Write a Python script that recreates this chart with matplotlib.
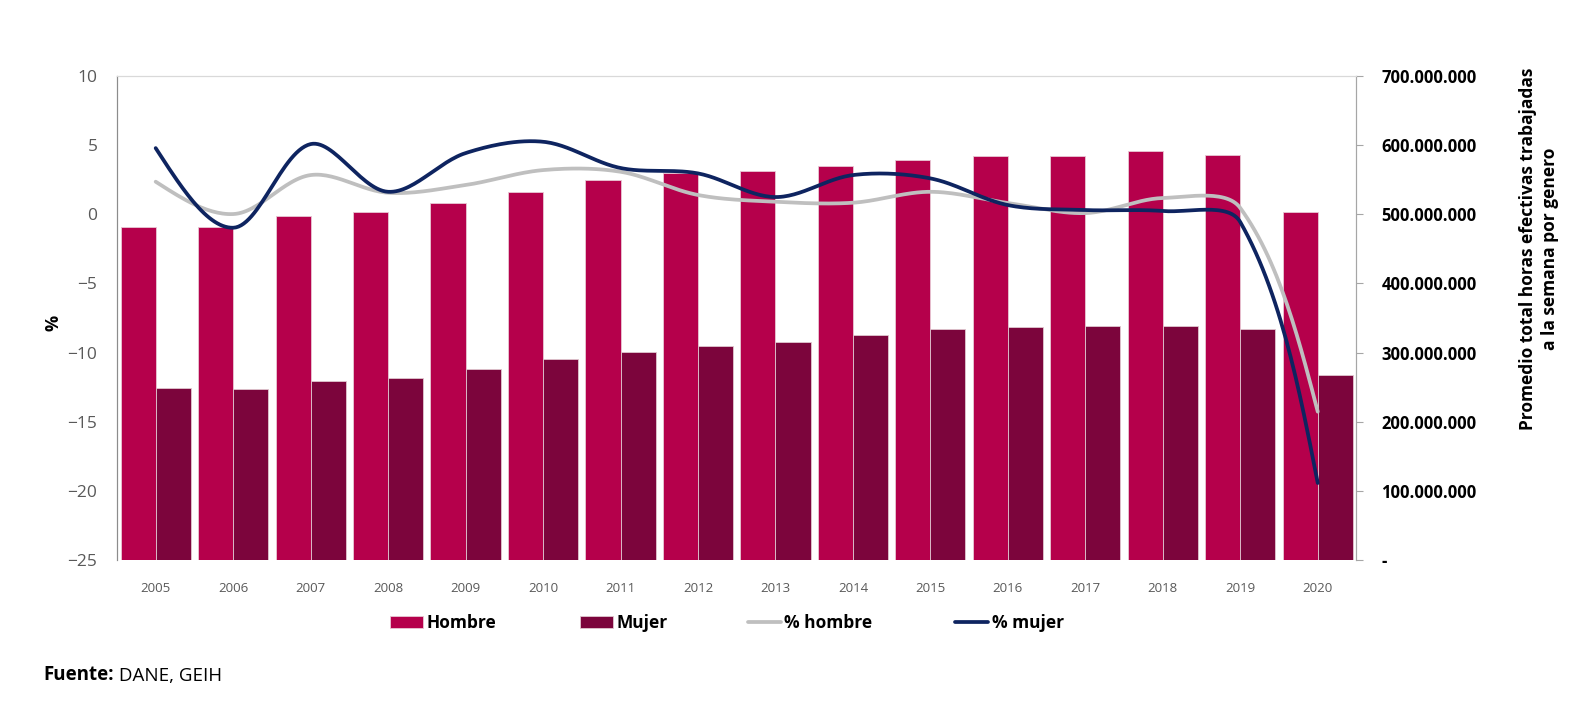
import numpy as np
import matplotlib
matplotlib.use('Agg')
import matplotlib.pyplot as plt
from matplotlib.ticker import FuncFormatter, MultipleLocator

plt.rcParams['font.family'] = ['Open Sans', 'DejaVu Sans']

# Data
years = ['2005', '2006', '2007', '2008', '2009', '2010', '2011', '2012',
         '2013', '2014', '2015', '2016', '2017', '2018', '2019', '2020']
hombre = [481e6, 482e6, 497e6, 504e6, 516e6, 533e6, 550e6, 560e6,
          563e6, 570e6, 579e6, 584e6, 584e6, 592e6, 586e6, 503e6]
mujer = [249e6, 247e6, 259e6, 263e6, 276e6, 291e6, 301e6, 310e6,
         316e6, 325e6, 334e6, 337e6, 338e6, 339e6, 334e6, 268e6]
pct_hombre = [2.36, 0.02, 2.84, 1.56, 2.12, 3.2, 3.08, 1.4,
              0.91, 0.84, 1.63, 0.82, 0.09, 1.18, 0.46, -14.27]
pct_mujer = [4.79, -0.97, 5.08, 1.63, 4.43, 5.25, 3.35, 2.96,
             1.25, 2.84, 2.6, 0.67, 0.31, 0.24, -0.56, -19.43]

c_hombre = '#B5004B'
c_mujer = '#7C053C'
c_gris = '#BFBFBF'
c_azul = '#0E2460'


def smooth(x, y, sx=77.5, sy=13.83, s=1/3, n=30):
    # bezier curve through the points, tangents weighted by segment length
    # (measured in pixels) - close to Excel's smoothed line
    P = np.column_stack([np.asarray(x, float) * sx, np.asarray(y, float) * sy])
    m = len(P)
    cin = P.copy()
    cout = P.copy()
    for i in range(1, m - 1):
        T = P[i + 1] - P[i - 1]
        d1 = np.hypot(*(P[i] - P[i - 1]))
        d2 = np.hypot(*(P[i + 1] - P[i]))
        cin[i] = P[i] - T * s * d1 / (d1 + d2)
        cout[i] = P[i] + T * s * d2 / (d1 + d2)
    cout[0] = P[0] + (cin[1] - P[0]) * 0.5
    cin[-1] = P[-1] + (cout[-2] - P[-1]) * 0.5
    t = np.linspace(0, 1, n)[:, None]
    pts = []
    for i in range(m - 1):
        b = ((1 - t) ** 3 * P[i] + 3 * (1 - t) ** 2 * t * cout[i] +
             3 * (1 - t) * t ** 2 * cin[i + 1] + t ** 3 * P[i + 1])
        pts.append(b)
    pts = np.vstack(pts)
    return pts[:, 0] / sx, pts[:, 1] / sy


fig = plt.figure(figsize=(15.91, 7.01), dpi=100)
ax = fig.add_axes([0.0735, 0.2011, 0.7791, 0.6904])
ax2 = ax.twinx()

x = np.arange(len(years))
w = 0.453
b1 = ax2.bar(x - w / 2, hombre, width=w, color=c_hombre, edgecolor='#E8C8D4',
             linewidth=0.6, label='Hombre')
b2 = ax2.bar(x + w / 2, mujer, width=w, color=c_mujer, edgecolor='#E0C8D0',
             linewidth=0.6, label='Mujer')
ax2.set_ylim(0, 700e6)
ax2.yaxis.set_major_locator(MultipleLocator(100e6))
ax2.yaxis.set_major_formatter(FuncFormatter(
    lambda v, p: '-' if v == 0 else f'{int(v):,}'.replace(',', '.')))
for lab in ax2.get_yticklabels():
    lab.set_fontweight('bold')
ax2.tick_params(axis='y', labelsize=12, labelcolor='black', length=5,
                width=0.8, pad=13, color='#A6A6A6')
ax2.set_ylabel('Promedio total horas efectivas trabajadas\na la semana por genero',
               fontsize=12.5, fontweight='bold', linespacing=1.3)
ax2.yaxis.set_label_coords(1.131, 0.643)

sx, sy = smooth(x, pct_hombre)
l1, = ax.plot(sx, sy, color=c_gris, lw=2.7, solid_capstyle='round', label='% hombre')
sx, sy = smooth(x, pct_mujer)
l2, = ax.plot(sx, sy, color=c_azul, lw=2.7, solid_capstyle='round', label='% mujer')

ax.set_zorder(ax2.get_zorder() + 1)
ax.patch.set_visible(False)
ax.set_ylim(-25, 10)
ax.set_xlim(-0.5, len(years) - 0.5)
ax.yaxis.set_major_locator(MultipleLocator(5))
ax.tick_params(axis='y', labelsize=12.5, colors='#595959', length=0, pad=14)
ax.set_xticks(x)
ax.set_xticklabels(years)
ax.tick_params(axis='x', labelsize=9.5, colors='#595959', length=0, pad=16)
ax.set_ylabel('%', fontsize=13, fontweight='bold')
ax.yaxis.set_label_coords(-0.0441, 0.49)

for a in (ax, ax2):
    a.spines['bottom'].set_visible(False)
    a.spines['top'].set_color('#D9D9D9')
    a.spines['left'].set_color('#8C8C8C')
    a.spines['right'].set_color('#A6A6A6')

# one legend per entry, placed like the original
for h, xpos in zip([b1, b2, l1, l2], [0.2451, 0.3646, 0.4701, 0.6003]):
    fig.legend(handles=[h], loc='center left', bbox_to_anchor=(xpos, 0.111),
               frameon=False, prop={'size': 12.5, 'weight': 'bold'},
               borderpad=0, borderaxespad=0, handlelength=1.9,
               handletextpad=0.2)

t = fig.text(0.027, 0.030, 'Fuente:', fontsize=13.5, fontweight='bold',
             va='baseline')
ax.annotate(' DANE, GEIH', xy=(1, 0), xycoords=t, fontsize=13.5, va='bottom')

fig.savefig('out.png', dpi=100)
